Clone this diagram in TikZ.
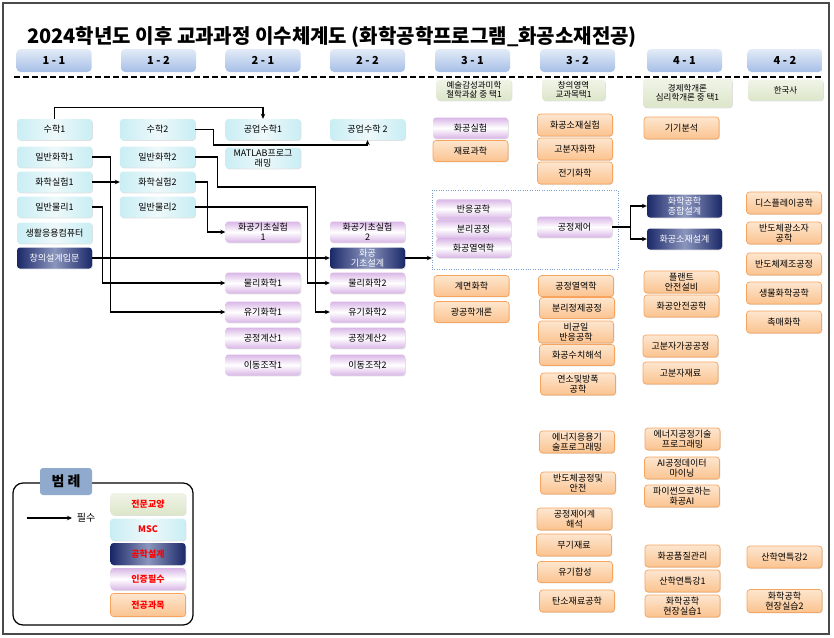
\documentclass[tikz,border=0pt]{standalone}
\usepackage{fontspec}
\setmainfont{Noto Sans CJK KR}
\usetikzlibrary{arrows.meta,shadows}
\definecolor{framegray}{HTML}{4A4A4A}
\definecolor{mscedge}{HTML}{C8EEF4}
\definecolor{mscmid}{HTML}{EEF8FA}
\definecolor{certedge}{HTML}{D9B6E6}
\definecolor{majtop}{HTML}{FDE6CF}
\definecolor{majbot}{HTML}{FBC38F}
\definecolor{majline}{HTML}{F6A45E}
\definecolor{desedge}{HTML}{1A2868}
\definecolor{desmid}{HTML}{8C96BE}
\definecolor{libtop}{HTML}{F0F4E8}
\definecolor{libbot}{HTML}{DCE6C9}
\definecolor{termtop}{HTML}{E3EBF7}
\definecolor{termbot}{HTML}{A6BFE7}
\definecolor{tabblue}{HTML}{8FAACC}
\definecolor{coreline}{HTML}{7F9CC8}
\tikzset{
  course/.style={rounded corners=3pt, minimum width=75pt, minimum height=21pt, inner sep=0pt,
    align=center, font=\fontsize{9}{10}\selectfont,
    drop shadow={shadow xshift=.8pt, shadow yshift=-.8pt, opacity=.25}},
  msc/.style={course, left color=mscedge, right color=mscedge, middle color=mscmid},
  cert/.style={course, top color=certedge, bottom color=certedge, middle color=white},
  major/.style={course, top color=majtop, bottom color=majbot, draw=majline, line width=.7pt},
  design/.style={course, left color=desedge, right color=desedge, middle color=desmid, text=white},
  liberal/.style={course, top color=libtop, bottom color=libbot, font=\fontsize{8.5}{9.5}\selectfont},
  term/.style={rounded corners=4pt, minimum width=75pt, minimum height=23pt, inner sep=0pt,
    top color=termtop, bottom color=termbot, font=\fontsize{11}{12}\bfseries},
  keybox/.style={text=red, font=\fontsize{9}{10}\bfseries},
  req/.style={line width=1.3pt, -{Stealth[length=5pt, width=4.5pt]}},
}
\begin{document}
\begin{tikzpicture}[x=1pt, y=-1pt]
	\useasboundingbox (0,0) rectangle (834,637);
	\draw[framegray, line width=1.5pt] (3,3) rectangle (829,634);
	\node[anchor=west, inner sep=0pt, font=\fontsize{20}{22}\bfseries] (title) at (27,37) {2024학년도 이후 교과과정 이수체계도 (화학공학프로그램\_화공소재전공)};
	% terms
	\node[term] (t11) at (54,60.5) {1 - 1};
	\node[term] (t12) at (158.5,60.5) {1 - 2};
	\node[term] (t21) at (263,60.5) {2 - 1};
	\node[term] (t22) at (367.5,60.5) {2 - 2};
	\node[term] (t31) at (472.5,60.5) {3 - 1};
	\node[term] (t32) at (577.5,60.5) {3 - 2};
	\node[term] (t41) at (684.5,60.5) {4 - 1};
	\node[term] (t42) at (785,60.5) {4 - 2};
	\draw[line width=1.8pt, dash pattern=on 6pt off 3pt] (14,77) -- (822,77);
	% 1-1
	\node[msc] (math1) at (54.5,129.5) {수학1};
	\node[msc] (chem1) at (54.5,157) {일반화학1};
	\node[msc] (lab1) at (54.5,182) {화학실험1};
	\node[msc] (phys1) at (54.5,207) {일반물리1};
	\node[msc] (comp) at (54.5,233) {생활응용컴퓨터};
	\node[design] (intro) at (54.5,258) {창의설계입문};
	% 1-2
	\node[msc] (math2) at (157.5,129.5) {수학2};
	\node[msc] (chem2) at (157.5,157) {일반화학2};
	\node[msc] (lab2) at (157.5,182) {화학실험2};
	\node[msc] (phys2) at (157.5,207) {일반물리2};
	% 2-1
	\node[msc] (emath1) at (263,129.5) {공업수학1};
	\node[msc] (matlab) at (263,158) {MATLAB프로그\\래밍};
	\node[cert] (bdlab1) at (263,232) {화공기초실험\\1};
	\node[cert] (pchem1) at (263,283) {물리화학1};
	\node[cert] (orgc1) at (263,312) {유기화학1};
	\node[cert] (calc1) at (263,338) {공정계산1};
	\node[cert] (trans1) at (263,365) {이동조작1};
	% 2-2
	\node[msc] (emath2) at (367.5,129.5) {공업수학 2};
	\node[cert] (bdlab2) at (367.5,232) {화공기초실험\\2};
	\node[design] (bdes) at (367.5,258) {화공\\기초설계};
	\node[cert] (pchem2) at (367.5,283) {물리화학2};
	\node[cert] (orgc2) at (367.5,312) {유기화학2};
	\node[cert] (calc2) at (367.5,338) {공정계산2};
	\node[cert] (trans2) at (367.5,365) {이동조작2};
	% 3-1
	\node[liberal] (lib31) at (474,90) {예술감성과미학\\철학과삶 중 택1};
	\node[cert] (cplab) at (470.5,128) {화공실험};
	\node[major] (matsci) at (470.5,151) {재료과학};
	\node[draw=coreline, dotted, minimum width=186pt, minimum height=79pt] (core) at (525,229.5) {};
	\node[cert, minimum height=19.5pt] (rxn) at (473.5,209) {반응공학};
	\node[cert, minimum height=19.5pt] (sep) at (473.5,229) {분리공정};
	\node[cert, minimum height=19.5pt] (thermo) at (473.5,248) {화공열역학};
	\node[cert] (pctl) at (574.5,227) {공정제어};
	\node[major] (surf) at (471.5,286) {계면화학};
	\node[major] (optic) at (471.5,312) {광공학개론};
	% 3-2
	\node[liberal, minimum width=63pt] (lib32) at (573.5,90) {창의영역\\교과목택1};
	\node[major, minimum height=22pt] (mlab) at (575,125) {화공소재실험};
	\node[major, minimum height=22pt] (polyc) at (575,149) {고분자화학};
	\node[major, minimum height=22pt] (elec) at (575,173) {전기화학};
	\node[major] (pthermo) at (576,286) {공정열역학};
	\node[major] (purif) at (577,308) {분리정제공정};
	\node[major, minimum height=22pt] (hetero) at (576,332) {비균일\\반응공학};
	\node[major] (numer) at (577,355) {화공수치해석};
	\node[major, minimum height=22pt] (comb) at (578,384) {연소및방폭\\공학};
	\node[major, minimum height=22pt] (enprog) at (577,442) {에너지응용기\\술프로그래밍};
	\node[major, minimum height=22pt] (semisafe) at (578,483) {반도체공정및\\안전};
	\node[major, minimum height=22pt] (ctlan) at (574.5,519) {공정제어계\\해석};
	\node[major, minimum height=22pt] (inorg) at (574,545) {무기재료};
	\node[major] (orgsyn) at (575,572) {유기합성};
	\node[major, minimum height=22pt] (carbon) at (577,601) {탄소재료공학};
	% 4-1
	\node[liberal, minimum width=89pt, minimum height=29pt] (lib41) at (687.5,93) {경제학개론\\심리학개론 중 택1};
	\node[major, minimum height=22pt] (inst) at (681.5,128) {기기분석};
	\node[design, minimum height=23pt] (capst) at (684.5,206) {화학공학\\종합설계};
	\node[design] (msdes) at (684.5,239) {화공소재설계};
	\node[major, minimum height=22pt] (plant) at (681.5,282) {플랜트\\안전설비};
	\node[major, minimum height=22pt] (safe) at (681.5,306) {화공안전공학};
	\node[major, minimum height=22pt] (polyp) at (680.5,346) {고분자가공공정};
	\node[major, minimum height=22pt] (polym) at (680.5,373) {고분자재료};
	\node[major, minimum height=22pt] (enproc) at (682.5,439) {에너지공정기술\\프로그래밍};
	\node[major, minimum height=22pt] (aimine) at (682,468) {AI공정데이터\\마이닝};
	\node[major, minimum height=22pt] (pyai) at (682,496) {파이썬으로하는\\화공AI};
	\node[major, minimum height=22pt] (qual) at (682.5,556) {화공품질관리};
	\node[major, minimum height=22pt] (ind1) at (682.5,581) {산학연특강1};
	\node[major, minimum height=22pt] (intern1) at (682.5,606) {화학공학\\현장실습1};
	% 4-2
	\node[liberal, minimum width=75pt] (kor) at (785.5,90) {한국사};
	\node[major, minimum height=22pt] (disp) at (784,203) {디스플레이공학};
	\node[major, minimum height=22pt] (semiopt) at (784,233) {반도체광소자\\공학};
	\node[major, minimum height=22pt] (semifab) at (784,264) {반도체제조공정};
	\node[major, minimum height=22pt] (bioc) at (784,293) {생물화학공학};
	\node[major, minimum height=22pt] (catal) at (784,322) {촉매화학};
	\node[major, minimum height=22pt] (ind2) at (784.5,557) {산학연특강2};
	\node[major, minimum height=23pt] (intern2) at (784.5,601) {화학공학\\현장실습2};
	% required paths
	\draw[req] (math1.north) -- ++(0,-11) -| (emath1.north);
	\draw[req] (math2.east) -- ++(18,0) -- ++(0,15.5) -| (emath2.south);
	\draw[req] (chem1.east) -- ++(18,0) |- (orgc1.west);
	\draw[req] (lab1.east) -- (lab2.west);
	\draw[req] (phys1.east) -- ++(10,0) |- (pchem1.west);
	\draw[req] (chem2.east) -- ++(22,0) -- ++(0,30) -- ++(98,0) |- (orgc2.west);
	\draw[req] (lab2.east) -- ++(12,0) |- (bdlab1.west);
	\draw[req] (phys2.east) -- ++(112,0) |- (pchem2.west);
	\draw[req] (intro.east) -- (bdes.west);
	\draw[req] (bdes.east) -- (bdes.east -| core.west);
	\draw[line width=1.3pt] (pctl.east) -- ++(18,0) coordinate (fork);
	\draw[req] (fork) |- (capst.west);
	\draw[req] (fork) |- (msdes.west);
	% legend
	\draw[line width=1.2pt, rounded corners=10pt] (13,483) rectangle (193,625);
	\node[rounded corners=3pt, fill=tabblue, minimum width=52pt, minimum height=27pt, font=\fontsize{14}{15}\bfseries] (legtitle) at (66,481.5) {범 례};
	\coordinate (reqa) at (27,518);
	\coordinate (reqb) at (72,518);
	\draw[req] (reqa) -- (reqb);
	\node[font=\fontsize{10}{11}\selectfont] (reqtext) at (86,518) {필수};
	\node[liberal, keybox, minimum height=22pt] (keylib) at (148,504) {전문교양};
	\node[msc, keybox, minimum height=22pt] (keymsc) at (148,529.5) {MSC};
	\node[design, keybox, minimum height=22pt] (keydes) at (148,554) {공학설계};
	\node[cert, keybox, minimum height=22pt] (keycert) at (148,579) {인증필수};
	\node[major, keybox, minimum height=23pt] (keymaj) at (148,605) {전공과목};
\end{tikzpicture}
\end{document}
